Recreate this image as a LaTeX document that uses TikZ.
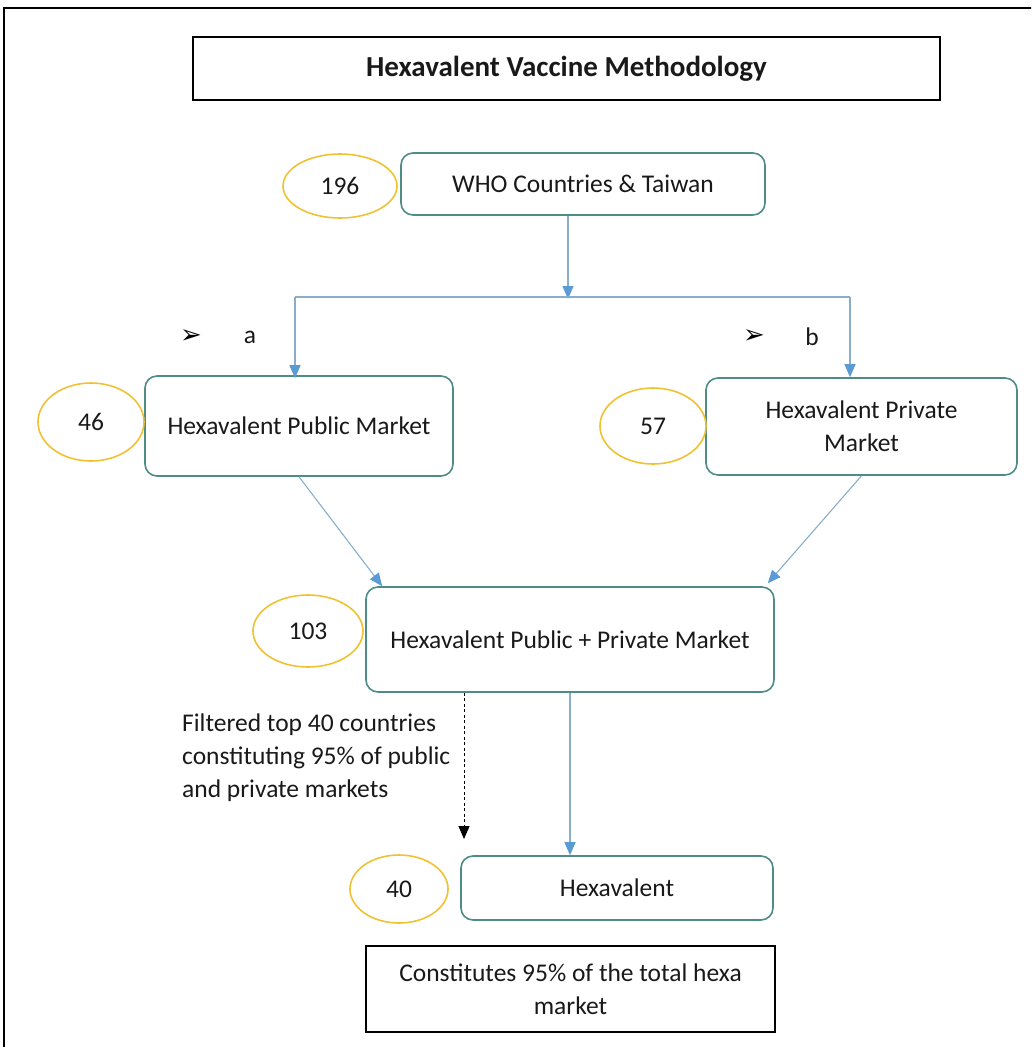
\documentclass[tikz,border=0pt]{standalone}
\usepackage{fontspec}
\setmainfont{Carlito}
\newfontfamily\symfont{DejaVu Sans}
\usetikzlibrary{arrows.meta,shapes.geometric}
\definecolor{boxteal}{HTML}{4E8D86}
\definecolor{ringgold}{HTML}{F0C232}
\definecolor{linkblue}{HTML}{88AECB}
\definecolor{tipblue}{HTML}{5B9BD5}
\tikzset{
  txt/.style={font=\fontsize{25.5}{33}\selectfont, text=black!90},
  stepbox/.style={txt, draw=boxteal, line width=1.6pt, rounded corners=12pt, align=center, inner sep=0pt},
  plainbox/.style={txt, draw=black, line width=1.4pt, align=center, inner sep=0pt},
  countring/.style={txt, ellipse, draw=ringgold, line width=1.6pt, inner sep=0pt},
  link/.style={draw=linkblue, line width=1.1pt},
  linkarrow/.style={link, -{Triangle[width=11pt,length=13pt,color=tipblue]}},
  dasharrow/.style={draw=black, line width=0.9pt, dash pattern=on 3pt off 2.5pt, -{Triangle[width=11pt,length=13pt]}},
  bullettip/.style={font=\symfont\fontsize{26}{28}\selectfont},
}
\begin{document}
\begin{tikzpicture}[x=1pt, y=-1pt]
\useasboundingbox (0,0) rectangle (1031,1047);
\clip (0,0) rectangle (1031,1047);
% page frame, running off the right and bottom edges
\draw[line width=2pt] (4,8) rectangle (1090,1100);

% title
\node[plainbox, line width=1.8pt, minimum width=747pt, minimum height=63pt, font=\bfseries\fontsize{29}{32}\selectfont]
  (title) at (566.5,68.5) {Hexavalent Vaccine Methodology};

% flow boxes
\node[stepbox, minimum width=364pt, minimum height=62pt] (who)  at (583,184) {WHO Countries \& Taiwan};
\node[stepbox, minimum width=308pt, minimum height=100pt] (pub)  at (299,426) {Hexavalent Public Market};
\node[stepbox, minimum width=311pt, minimum height=97pt]  (priv) at (861.5,426.5) {Hexavalent Private\\Market};
\node[stepbox, minimum width=408pt, minimum height=105pt] (comb) at (570,639.5) {Hexavalent Public + Private Market};
\node[stepbox, minimum width=312pt, minimum height=64pt]  (hexa) at (617,888) {Hexavalent};
\node[plainbox, line width=1.2pt, minimum width=409pt, minimum height=86pt] (note) at (570.5,989)
  {Constitutes 95\% of the total hexa\\market};

% country counts
\node[countring, minimum width=114pt, minimum height=64pt] (n196) at (340,186) {196};
\node[countring, minimum width=106pt, minimum height=78pt] (n46)  at (91,422)  {46};
\node[countring, minimum width=106pt, minimum height=76pt] (n57)  at (653,426) {57};
\node[countring, minimum width=110pt, minimum height=72pt] (n103) at (308,631) {103};
\node[countring, minimum width=98pt,  minimum height=68pt] (n40)  at (399,889) {40};

% branch labels
\node[bullettip] (mka) at (191,337) {➢};
\node[txt]  (la)  at (250,337) {a};
\node[bullettip] (mkb) at (754,337) {➢};
\node[txt]  (lb)  at (812,337) {b};

% filter note (anchored on the baseline of its last line)
\node[txt, align=left, anchor=base west, inner sep=0pt]
  (filt) at (182,797) {Filtered top 40 countries\\constituting 95\% of public\\and private markets};

% connectors
\coordinate (split) at (568,297);
\coordinate (splitL) at (295,297);
\coordinate (splitR) at (850,297);
\draw[linkarrow] (who.south -| split) -- ([yshift=-2pt]split);
\draw[link] (splitL) -- (splitR);
\draw[linkarrow] (splitL) -- ([yshift=-3pt]pub.north -| splitL);
\draw[linkarrow] (splitR) -- (priv.north -| splitR);
\draw[linkarrow] (pub.south) -- ([xshift=17pt]comb.north west);
\draw[linkarrow] (priv.south) -- ([xshift=-7pt,yshift=3pt]comb.north east);
\draw[linkarrow] (comb.south) -- (hexa.north -| comb.south);
\coordinate (dropEnd) at (464,839);
\draw[dasharrow] (comb.south -| dropEnd) -- (dropEnd);
\end{tikzpicture}
\end{document}
